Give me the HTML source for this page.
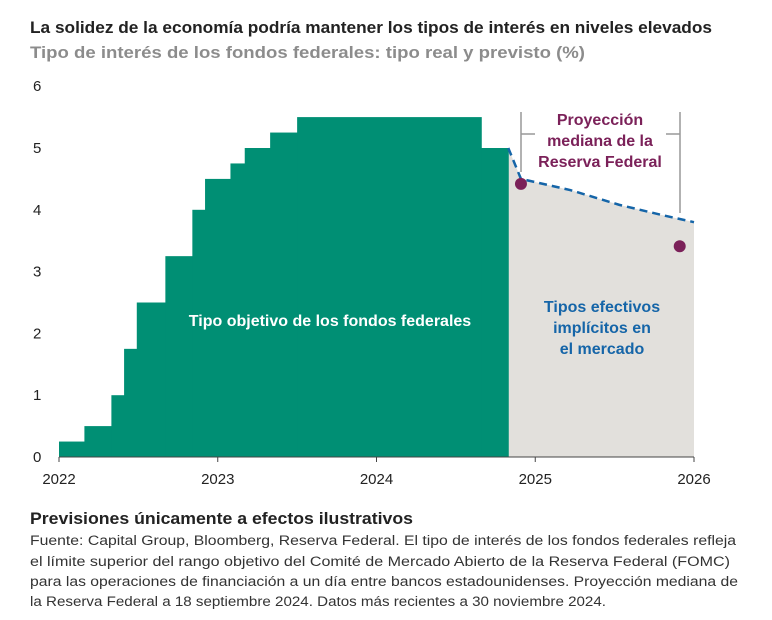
<!DOCTYPE html>
<html><head><meta charset="utf-8"><style>
body{margin:0;width:772px;height:620px;background:#fff;font-family:"Liberation Sans",sans-serif;overflow:hidden}
</style></head><body>
<svg id="c" width="772" height="620" style="position:absolute;left:0;top:0">
<text x="30" y="33" font-size="17" font-weight="bold" fill="#222" textLength="682" lengthAdjust="spacingAndGlyphs">La solidez de la economía podría mantener los tipos de interés en niveles elevados</text>
<text x="30" y="58" font-size="17" font-weight="bold" fill="#8c8c8c" textLength="555" lengthAdjust="spacingAndGlyphs">Tipo de interés de los fondos federales: tipo real y previsto (%)</text>
<text x="30" y="524" font-size="17" font-weight="bold" fill="#222" textLength="383" lengthAdjust="spacingAndGlyphs">Previsiones únicamente a efectos ilustrativos</text>
<g font-size="13.5" fill="#333">
<text x="30" y="545" textLength="706" lengthAdjust="spacingAndGlyphs">Fuente: Capital Group, Bloomberg, Reserva Federal. El tipo de interés de los fondos federales refleja</text>
<text x="30" y="566" textLength="700" lengthAdjust="spacingAndGlyphs">el límite superior del rango objetivo del Comité de Mercado Abierto de la Reserva Federal (FOMC)</text>
<text x="30" y="586" textLength="708" lengthAdjust="spacingAndGlyphs">para las operaciones de financiación a un día entre bancos estadounidenses. Proyección mediana de</text>
<text x="30" y="606" textLength="576" lengthAdjust="spacingAndGlyphs">la Reserva Federal a 18 septiembre 2024. Datos más recientes a 30 noviembre 2024.</text>
</g>
</svg>
<script>
const stepStarts=[0,0.16,0.33,0.41,0.49,0.67,0.84,0.92,1.08,1.17,1.33,1.5,2.66];
const stepValues=[0.25,0.5,1.0,1.75,2.5,3.25,4.0,4.5,4.75,5.0,5.25,5.5,5.0];
const stepEnd=2.83;
const marketX=[2.83,2.91,3.22,3.53,3.79,4.0];
const marketY=[5.0,4.5,4.32,4.08,3.92,3.8];
const fedX=[2.91,3.91];
const fedY=[4.42,3.41];
const yTicks=[0,1,2,3,4,5,6];
const xTicks=[0,1,2,3,4];
const xLabels=["2022","2023","2024","2025","2026"];
const NS="http://www.w3.org/2000/svg";
const svg=document.getElementById('c');
const X=v=>59+v*158.75, Y=v=>457-v*61.8;
function mk(t,a,p){const e=document.createElementNS(NS,t);for(const k in a)e.setAttribute(k,a[k]);(p||svg).appendChild(e);return e;}
let d=`M${X(marketX[0])},${Y(0)}`;marketX.forEach((x,i)=>d+=` L${X(x)},${Y(marketY[i])}`);d+=` L${X(marketX[marketX.length-1])},${Y(0)}Z`;
let e=mk('path',{d,fill:'#e2e0dc'});


stepValues.forEach((v,i)=>{const x0=X(stepStarts[i]),x1=X(i<stepStarts.length-1?stepStarts[i+1]:stepEnd);
const r=mk('rect',{x:x0,y:Y(v),width:x1-x0+0.5,height:Y(0)-Y(v),fill:'#008f74'});

});
let pd='';marketX.forEach((x,i)=>pd+=(i?' L':'M')+X(x)+','+Y(marketY[i]));
e=mk('path',{d:pd,fill:'none',stroke:'#1565a8','stroke-width':2.5,'stroke-dasharray':'8,5'});


fedX.forEach((x,i)=>{const c=mk('circle',{cx:X(x),cy:Y(fedY[i]),r:6,fill:'#7b2159'});

});
e=mk('line',{x1:X(0),x2:X(4),y1:Y(0),y2:Y(0),stroke:'#444','stroke-width':1});


xTicks.forEach((t,i)=>{mk('line',{x1:X(t),x2:X(t),y1:Y(0),y2:Y(0)+5,stroke:'#444'});
const l=mk('text',{x:X(t),y:484,'text-anchor':'middle','font-size':15,fill:'#222'});l.textContent=xLabels[i];

});
yTicks.forEach(t=>{const l=mk('text',{x:33,y:Y(t)+5,'font-size':15,fill:'#222'});l.textContent=t;

});
mk('path',{d:'M521,112 V172 M521,134 H535 M680,112 V213 M666,134 H680',stroke:'#999','stroke-width':1.5,fill:'none'});
function txt(lines,x,y,col,name){lines.forEach((s,i)=>{const t=mk('text',{x,y:y+i*21,'text-anchor':'middle','font-size':16,'font-weight':'bold',fill:col});t.textContent=s;

});}
txt(['Proyección','mediana de la','Reserva Federal'],600,125,'#7b2159','fed-projection-label');
txt(['Tipo objetivo de los fondos federales'],330,326,'#fff','fed-funds-label');
txt(['Tipos efectivos','implícitos en','el mercado'],602,312,'#1565a8','market-implied-label');
</script>
</body></html>
